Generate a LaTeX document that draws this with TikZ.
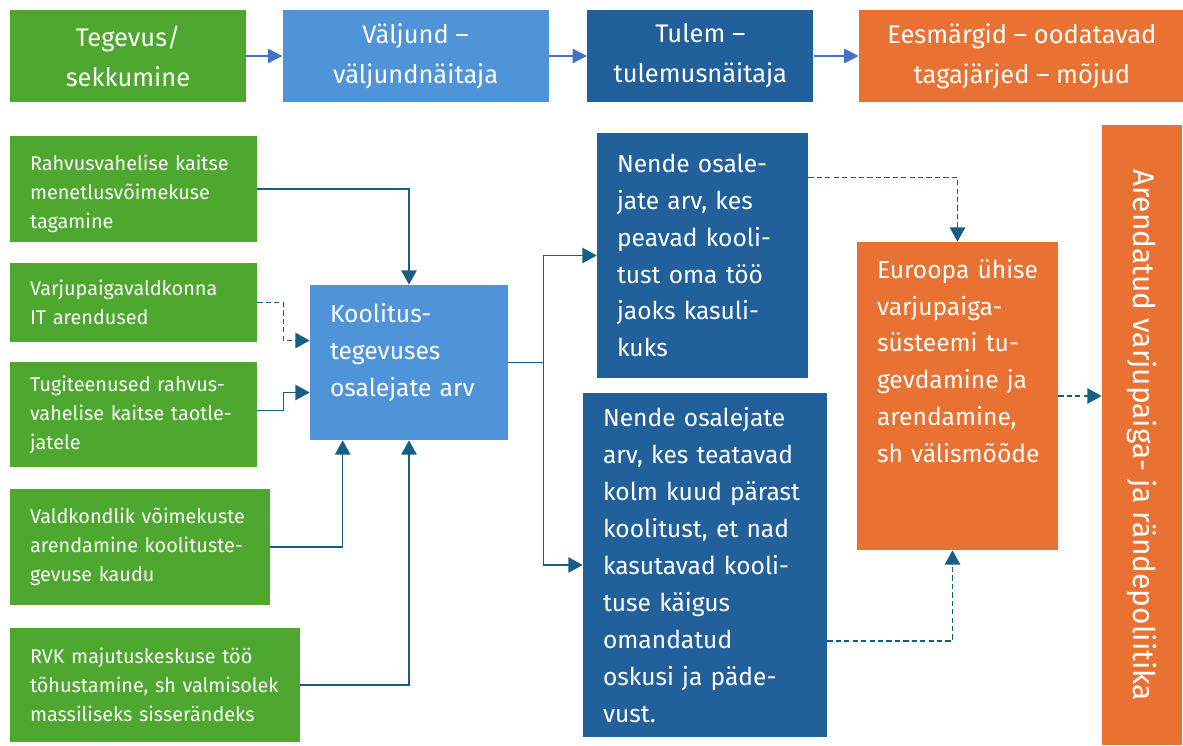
\documentclass[tikz,border=0pt]{standalone}
\usepackage{fontspec}
\setmainfont{Fira Sans}
\usetikzlibrary{arrows.meta, positioning, calc}
\definecolor{actgreen}{HTML}{4EA72E}
\definecolor{outblue}{HTML}{4F93D9}
\definecolor{resblue}{HTML}{22609B}
\definecolor{goalorange}{HTML}{E97132}
\definecolor{linkteal}{HTML}{156082}
\definecolor{headarrow}{HTML}{4472C4}
\tikzset{
  tile/.style={rectangle, inner xsep=0.4cm, inner ysep=0pt, text=white,
               align=left},
  head/.style={tile, align=center, minimum height=1.84cm,
               font=\fontsize{14.5}{22.7}\selectfont},
  actnode/.style={tile, fill=actgreen, font=\fontsize{11.3}{16.5}\selectfont},
  outnode/.style={tile, fill=outblue, font=\fontsize{14}{21}\selectfont},
  resnode/.style={tile, fill=resblue, font=\fontsize{14}{21}\selectfont},
  goalnode/.style={tile, fill=goalorange, font=\fontsize{14}{21}\selectfont},
  line/.style={line width=0.85pt, draw=linkteal},
  link/.style={line, -{Triangle[length=8.2pt, width=8.8pt]}},
  dlink/.style={link, dash pattern=on 3pt off 1.8pt},
  headlink/.style={-{Triangle[length=8.2pt, width=8.2pt]}, line width=0.85pt,
                   draw=headarrow},
}

\begin{document}
\begin{tikzpicture}[x=0.02cm, y=-0.02cm]
  \useasboundingbox (0,0) rectangle (1183,746);

  % header row
  \node [head, fill=actgreen, minimum width=4.72cm] (act) at (128,56) {Tegevus/\\sekkumine};
  \node [head, fill=outblue, minimum width=5.32cm, right=0.72cm of act] (out) {Väljund –\\väljundnäitaja};
  \node [head, fill=resblue, minimum width=4.52cm, right=0.76cm of out] (res) {Tulem –\\tulemusnäitaja};
  \node [head, fill=goalorange, minimum width=6.52cm, right=0.9cm of res] (goal) {Eesmärgid – oodatavad\\tagajärjed – mõjud};

  \draw [headlink] (act) -- (out);
  \draw [headlink] (out) -- (res);
  \draw [headlink] (res) -- (goal);

  % activities
  \node [actnode, minimum width=4.94cm, text width=4.14cm, minimum height=2.12cm, text height=0.5cm] (kaitse) at (133.5,189)
        {Rahvusvahelise kaitse\\menetlusvõimekuse\\tagamine};
  \node [actnode, minimum width=4.94cm, text width=4.14cm, minimum height=1.58cm] (itdev) at (133.5,302.5)
        {Varjupaigavaldkonna\\IT arendused};
  \node [actnode, minimum width=4.94cm, text width=4.14cm, minimum height=2.1cm] (tugi) at (133.5,414.5)
        {Tugiteenused rahvus-\\vahelise kaitse taotle-\\jatele};
  \node [actnode, minimum width=5.2cm, text width=4.4cm, minimum height=2.32cm] (voime) at (140,547)
        {Valdkondlik võimekuste\\arendamine koolituste-\\gevuse kaudu};
  \node [actnode, minimum width=5.8cm, text width=5.0cm, minimum height=2.28cm] (rvk) at (155,685)
        {RVK majutuskeskuse töö\\\mbox{tõhustamine, sh valmisolek}\\massiliseks sisserändeks};

  % output
  \node [outnode, minimum width=3.96cm, text width=3.16cm, minimum height=3.1cm, text depth=1.98cm] (osal) at (409,362.5)
        {Koolitus-\\tegevuses\\osalejate arv};

  % results
  \node [resnode, minimum width=4.22cm, text width=3.42cm, minimum height=4.9cm] (kasulik) at (702.5,255.5)
        {Nende osale-\\jate arv, kes\\peavad kooli-\\tust oma töö\\jaoks kasuli-\\kuks};
  \node [resnode, minimum width=4.88cm, text width=4.08cm, minimum height=6.88cm] (kasutus) at (705,565)
        {Nende osalejate\\arv, kes teatavad\\kolm kuud pärast\\koolitust, et nad\\kasutavad kooli-\\tuse käigus\\omandatud\\oskusi ja päde-\\vust.};

  % goals
  \node [goalnode, minimum width=4.02cm, text width=3.22cm, minimum height=6.16cm, text depth=5.1cm] (ceas) at (957.5,396)
        {\mbox{Euroopa ühise}\\varjupaiga-\\süsteemi tu-\\gevdamine ja\\arendamine,\\\mbox{sh välismõõde}};
  \node [tile, fill=goalorange, rotate=-90, minimum width=12.4cm, minimum height=1.6cm,
         font=\fontsize{17}{20}\selectfont] (poliitika) at (1142,435)
        {Arendatud varjupaiga- ja rändepoliitika};

  % connectors
  \draw [link] (kaitse.east) -| (osal.north);
  \draw [dlink] (itdev.east) -- ++(26,0) |- ($(osal.west)+(0,-22)$);
  \draw [link] ($(tugi.east)+(0,-4)$) -- ++(26,0) |- ($(osal.west)+(0,30)$);
  \draw [link] (voime.east) -| ($(osal.south west)+(33,0)$);
  \draw [link] (rvk.east) -| (osal.south);

  \coordinate (split) at ($(osal.east)+(35,0)$);
  \draw [line] (osal.east) -- (split);
  \draw [link] (split) |- (kasulik.west);
  \draw [link] (split) |- (kasutus.west);

  \draw [dlink] ($(kasulik.east)+(0,-78)$) -| (ceas.north);
  \draw [dlink] ($(kasutus.east)+(0,76)$) -| ($(ceas.south)+(-5,0)$);
  \draw [dlink] (ceas.east) -- (ceas.east -| poliitika.south);
\end{tikzpicture}
\end{document}
